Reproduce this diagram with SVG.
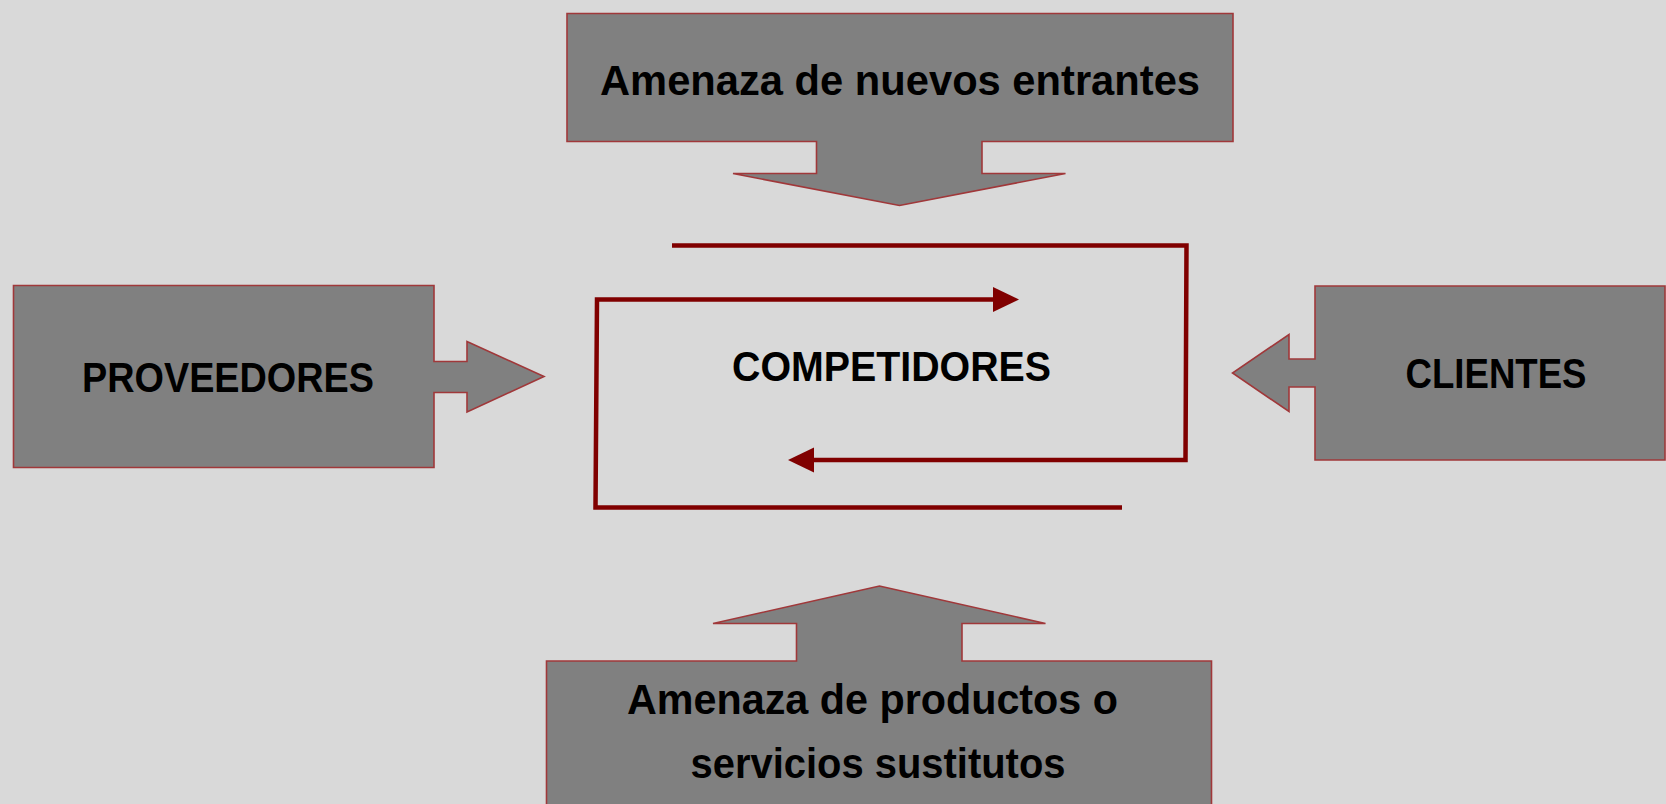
<svg xmlns="http://www.w3.org/2000/svg" width="1666" height="804" viewBox="0 0 1666 804">
  <style>
    .shape { fill: #808080; stroke: #a0383a; stroke-width: 1.6; stroke-linejoin: miter; }
    .label { font-family: "Liberation Sans", Arial, sans-serif; font-weight: bold; font-size: 42px; fill: #000; text-anchor: middle; }
    .flow { fill: none; stroke: #800000; stroke-width: 4.5; stroke-linejoin: miter; }
  </style>
  <defs>
    <marker id="head" markerUnits="userSpaceOnUse" markerWidth="27" markerHeight="27" viewBox="0 0 27 27" refX="1" refY="13.5" orient="auto">
      <path d="M0,1 L26,13.5 L0,26 Z" fill="#800000"/>
    </marker>
  </defs>
  <rect x="0" y="0" width="1666" height="804" fill="#d9d9d9"/>

  <g id="node-nuevos-entrantes">
    <path class="shape" d="M567,13.5 H1233 V141.5 H982 V173.5 H1065.5 L899.5,205.5 L733,173.5 H816.5 V141.5 H567 Z"/>
    <text class="label" x="900" y="95" textLength="600" lengthAdjust="spacingAndGlyphs">Amenaza de nuevos entrantes</text>
  </g>

  <g id="node-proveedores">
    <path class="shape" d="M13.5,285.5 H434 V361.5 H467 V341.5 L544,376.5 L467,412 V392.5 H434 V467.5 H13.5 Z"/>
    <text class="label" x="228" y="391.5" textLength="292" lengthAdjust="spacingAndGlyphs">PROVEEDORES</text>
  </g>

  <g id="node-clientes">
    <path class="shape" d="M1665,286 H1315 V359 H1289 V334.5 L1232.5,373 L1289,411.5 V387 H1315 V460 H1665 Z"/>
    <text class="label" x="1496" y="387.5" textLength="181" lengthAdjust="spacingAndGlyphs">CLIENTES</text>
  </g>

  <g id="node-sustitutos">
    <path class="shape" d="M546.5,806 V661 H796.5 V623.5 H713 L879.5,586 L1045.5,623.5 H962 V661 H1211.5 V806 Z"/>
    <text class="label" x="872.5" y="714" textLength="491" lengthAdjust="spacingAndGlyphs">Amenaza de productos o</text>
    <text class="label" x="878" y="778" textLength="375" lengthAdjust="spacingAndGlyphs">servicios sustitutos</text>
  </g>

  <g id="node-competidores">
    <text class="label" x="891.5" y="381" textLength="319" lengthAdjust="spacingAndGlyphs">COMPETIDORES</text>
  </g>

  <g id="connectors">
    <polyline class="flow" points="672,245.5 1186.5,245.5 1185.5,460 813,460" marker-end="url(#head)"/>
    <polyline class="flow" points="1122,507.5 595.5,507.5 597,299.5 994,299.5" marker-end="url(#head)"/>
  </g>
</svg>
